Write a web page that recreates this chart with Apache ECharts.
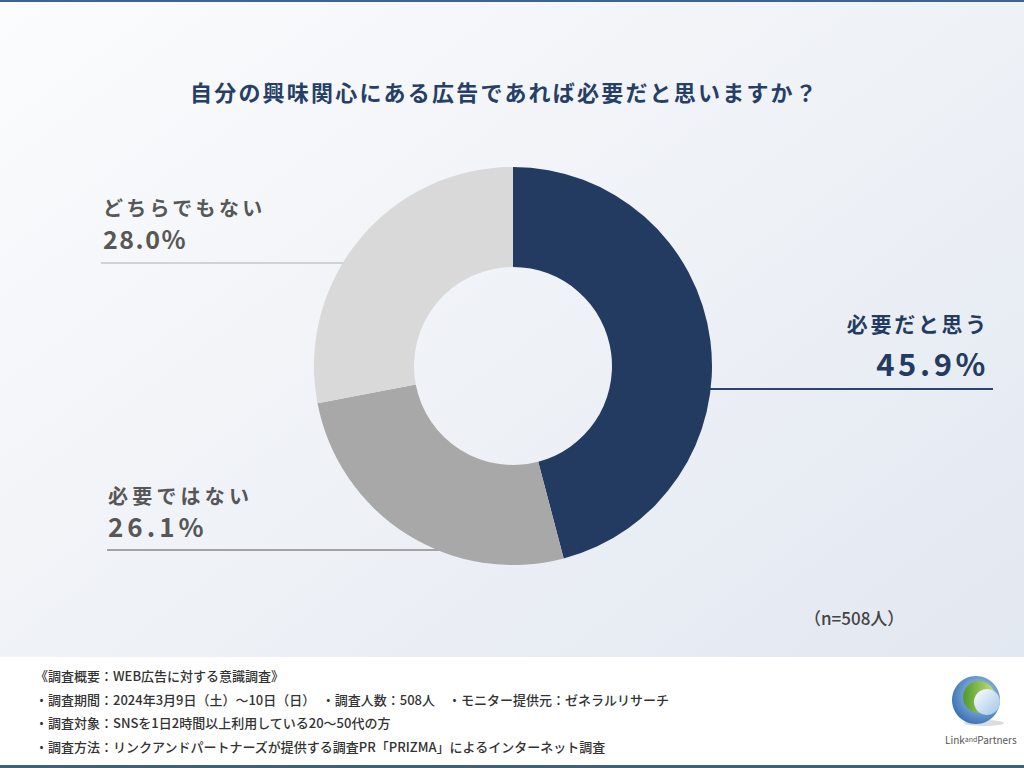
<!DOCTYPE html>
<html>
<head>
<meta charset="utf-8">
<script src="https://cdn.jsdelivr.net/npm/echarts@6/dist/echarts.min.js"></script>
<style>
html,body{margin:0;padding:0;width:1024px;height:768px;overflow:hidden;background:#fff;}
#c{width:1024px;height:768px;}
</style>
</head>
<body>
<div id="c"></div>
<script>
// ---- data ----
const titleText = '自分の興味関心にある広告であれば必要だと思いますか？';
const categories = ['必要だと思う', '必要ではない', 'どちらでもない'];
const values = [45.9, 26.1, 28.0];
const sampleNote = '（n=508人）';
const footnotes = [
  '《調査概要：WEB広告に対する意識調査》',
  '・調査期間：2024年3月9日（土）～10日（日）　・調査人数：508人　・モニター提供元：ゼネラルリサーチ',
  '・調査対象：SNSを1日2時間以上利用している20～50代の方',
  '・調査方法：リンクアンドパートナーズが提供する調査PR「PRIZMA」によるインターネット調査'
];

// ---- styles / layout ----
const FONT = '"Noto Sans CJK JP", "Noto Sans", sans-serif';
const sliceColors = ['#243b61', '#a8a8a8', '#d9d9d9'];
const lineColors = ['#2b4570', '#a3a3a3', '#d2d2d2'];
const textColors = ['#243b61', '#575757', '#575757'];
const nameSizes = [21, 20, 20];
const valueSizes = [31, 26, 25];
const nameLH = [36, 30, 30];
const valueLH = [42, 30, 32];
const CX = 513, CY = 366, R0 = 99, R1 = 199;
const labelPos = [
  { x: 989, y: 305, align: 'right', lineY: 389, lineEnd: 993 },
  { x: 108, y: 480, align: 'left', lineY: 550, lineEnd: 107 },
  { x: 103, y: 192, align: 'left', lineY: 263, lineEnd: 101 }
];
const fmt = v => v.toFixed(1) + '%';

const spacing = {};
spacing[titleText] = 2.2;
spacing[categories[0]] = 2.7;
spacing[categories[1]] = 4.2;
spacing[categories[2]] = 3.3;
spacing[fmt(values[0])] = 3.6;
spacing[fmt(values[1])] = 4;
spacing[fmt(values[2])] = 1.5;

const pieData = categories.map((name, i) => ({
  name: name,
  value: values[i],
  itemStyle: { color: sliceColors[i] },
  label: {
    color: textColors[i],
    rich: {
      n: { fontSize: nameSizes[i], fontWeight: 'bold', color: textColors[i], lineHeight: nameLH[i], fontFamily: FONT, align: labelPos[i].align },
      v: { fontSize: valueSizes[i], fontWeight: 'bold', color: textColors[i], lineHeight: valueLH[i], fontFamily: FONT, align: labelPos[i].align }
    }
  },
  labelLine: { lineStyle: { color: lineColors[i], width: 2 } }
}));

const footGraphics = footnotes.map((t, i) => ({
  type: 'text',
  left: 35,
  top: [669, 693, 716, 740][i],
  style: { text: t, fontSize: 13, fontWeight: 500, fontFamily: FONT, fill: '#333333' },
  z: 10
}));

const chart = echarts.init(document.getElementById('c'), null, { renderer: 'svg' });

chart.setOption({
  backgroundColor: {
    type: 'linear', x: 0, y: 0, x2: 1, y2: 1,
    colorStops: [
      { offset: 0, color: '#fbfcfd' },
      { offset: 0.5, color: '#eef1f6' },
      { offset: 1, color: '#e0e6f0' }
    ]
  },
  animation: false,
  title: {
    text: titleText,
    left: 190,
    top: 80,
    padding: 0,
    textStyle: { fontSize: 22, fontWeight: 'bold', color: '#263f66', fontFamily: FONT }
  },
  graphic: [
    { type: 'rect', shape: { x: 0, y: 0, width: 1024, height: 2 }, style: { fill: '#3f6390' }, z: 10 },
    { type: 'rect', shape: { x: 0, y: 657, width: 1024, height: 111 }, style: { fill: '#ffffff' }, z: 5 },
    { type: 'rect', shape: { x: 0, y: 765, width: 1024, height: 3 }, style: { fill: '#41607e' }, z: 10 },
    { type: 'text', left: 804, top: 609, style: { text: sampleNote, fontSize: 17, fontWeight: 500, fontFamily: FONT, fill: '#444444' }, z: 10 },
    // logo
    { type: 'ellipse', shape: { cx: 984, cy: 723, rx: 20, ry: 3 }, style: { fill: '#dcdcdc' }, z: 10 },
    { type: 'circle', shape: { cx: 976, cy: 700, r: 24 }, style: { fill: { type: 'radial', x: 0.6, y: 0.4, r: 0.7, colorStops: [{ offset: 0, color: '#b9d6f0' }, { offset: 1, color: '#2b68b0' }] } }, z: 10 },
    { type: 'circle', shape: { cx: 979, cy: 697, r: 16 }, style: { fill: { type: 'linear', x: 0, y: 0, x2: 1, y2: 0, colorStops: [{ offset: 0, color: '#4c9a2a' }, { offset: 1, color: '#c8e27a' }] } }, z: 11 },
    { type: 'circle', shape: { cx: 987, cy: 702, r: 13 }, style: { fill: { type: 'linear', x: 0, y: 0, x2: 1, y2: 1, colorStops: [{ offset: 0, color: '#ffffff' }, { offset: 1, color: '#9fc3e6' }] } }, z: 12 },
    {
      type: 'text', left: 945, top: 734, z: 12,
      style: {
        text: '{a|Link}{b|and}{a|Partners}', fontFamily: FONT,
        rich: { a: { fontSize: 10, fill: '#555555', fontFamily: FONT }, b: { fontSize: 7, fill: '#555555', fontFamily: FONT } }
      }
    }
  ].concat(footGraphics),
  series: [{
    type: 'pie',
    center: [CX, CY],
    radius: [R0, R1],
    startAngle: 90,
    clockwise: true,
    silent: true,
    data: pieData,
    label: {
      show: true,
      position: 'outside',
      formatter: p => '{n|' + p.name + '}\n{v|' + fmt(p.value) + '}'
    },
    labelLine: { show: true, smooth: false },
    labelLayout: function (params) {
      const L = labelPos[params.dataIndex];
      const dy = L.lineY - CY;
      const dx = Math.sqrt(R1 * R1 - dy * dy);
      const edge = L.align === 'right' ? CX + dx - 2 : CX - dx + 2;
      return {
        x: L.x,
        y: L.y,
        align: L.align,
        verticalAlign: 'top',
        labelLinePoints: [[edge, L.lineY], [(edge + L.lineEnd) / 2, L.lineY], [L.lineEnd, L.lineY]]
      };
    }
  }]
});

function applySpacing() {
  document.querySelectorAll('#c svg text').forEach(t => {
    const s = spacing[t.textContent];
    if (s != null) t.setAttribute('letter-spacing', s);
  });
}
chart.on('finished', applySpacing);
applySpacing();
</script>
</body>
</html>
